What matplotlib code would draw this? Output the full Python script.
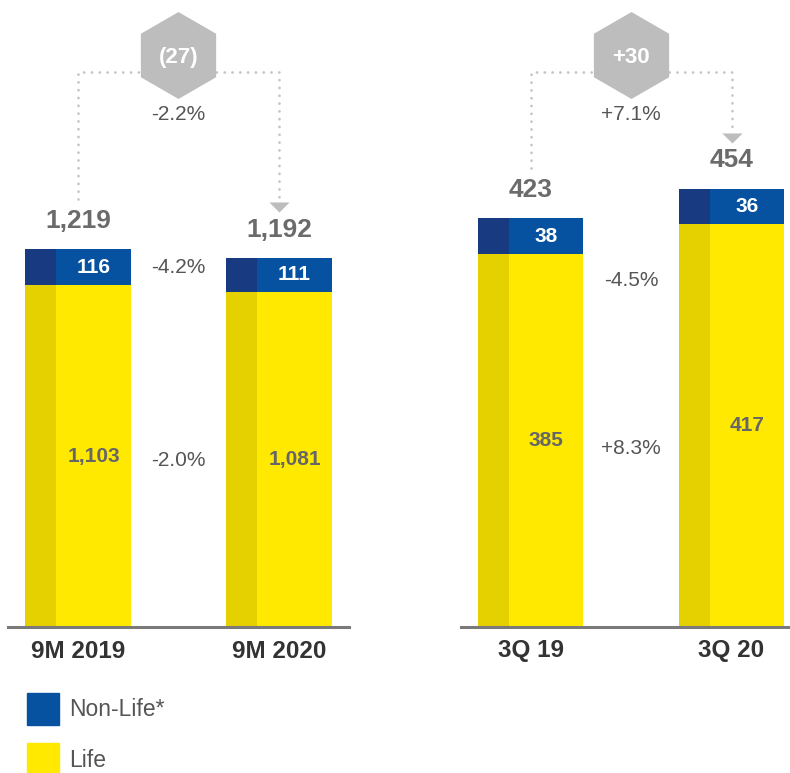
import matplotlib.pyplot as plt
from matplotlib.patches import Patch

plt.rcParams['font.family'] = ['Liberation Sans', 'DejaVu Sans']

# gross written premiums, EUR m
ytd_labels = ["9M 2019", "9M 2020"]
ytd_life = [1103, 1081]
ytd_nonlife = [116, 111]
ytd_total = [1219, 1192]
ytd_delta = "(27)"
ytd_delta_pct = "-2.2%"
ytd_seg_pct = ["-4.2%", "-2.0%"]

q_labels = ["3Q 19", "3Q 20"]
q_life = [385, 417]
q_nonlife = [38, 36]
q_total = [423, 454]
q_delta = "+30"
q_delta_pct = "+7.1%"
q_seg_pct = ["-4.5%", "+8.3%"]

BLUE, BLUE_DK = "#0652a1", "#173a80"
YELLOW, YELLOW_DK = "#ffe900", "#e5d000"
GREY = "#bdbdbd"

W, H = 790, 773
fig = plt.figure(figsize=(W / 100, H / 100), dpi=100)


def panel(left_px, right_px, xlim, ymax, labels, life, nonlife, totals,
          delta, delta_pct, seg_pct, seg_y):
    base = 627
    ax = fig.add_axes([left_px / W, (H - base) / H,
                       (right_px - left_px) / W, base / H])
    ax.set_xlim(*xlim)
    ax.set_ylim(0, ymax)
    x = [0, 1]
    bw, sw = 0.527, 0.154

    ax.bar(x, life, width=bw, color=YELLOW, zorder=2)
    ax.bar(x, nonlife, bottom=life, width=bw, color=BLUE, zorder=2)
    # darker strip on the left side of each bar
    xs = [v - bw / 2 for v in x]
    ax.bar(xs, life, width=sw, align='edge', color=YELLOW_DK, zorder=3)
    ax.bar(xs, nonlife, bottom=life, width=sw, align='edge',
           color=BLUE_DK, zorder=3)

    for xi, l, n, t in zip(x, life, nonlife, totals):
        xc = xi + sw / 2
        ax.text(xc, l / 2, f"{l:,}", ha='center', va='center',
                fontsize=15, fontweight='bold', color="#666666", zorder=4)
        ax.text(xc, l + n / 2, f"{n:,}", ha='center', va='center',
                fontsize=15, fontweight='bold', color="white", zorder=4)
        ax.annotate(f"{t:,}", (xi, t), xytext=(0, 20),
                    textcoords='offset points', ha='center', va='center',
                    fontsize=19, fontweight='bold', color="#6b6b6b")

    # bracket from first total to second total
    tr = ax.get_xaxis_transform()
    gap = 0.08
    y_line = 0.885
    dot = dict(color="#c4c4c4", lw=2.0, ls=(0, (0.01, 2.8)),
               dash_capstyle='round', transform=tr, clip_on=False, zorder=1)
    ax.plot([0, 0, 1, 1],
            [totals[0] / ymax + gap, y_line, y_line, totals[1] / ymax + gap + 0.01],
            **dot)
    ax.plot([1], [totals[1] / ymax + gap], transform=tr, clip_on=False,
            marker=[(-1, 0.5), (1, 0.5), (0, -0.5)], markersize=14.5,
            color=GREY, mec='none', zorder=2)
    ax.plot([0.5], [0.9115], transform=tr, clip_on=False, marker='h',
            markersize=62.6, color=GREY, mec='none', zorder=3)
    ax.text(0.5, 0.908, delta, transform=tr, ha='center', va='center',
            fontsize=16, fontweight='bold', color="white", zorder=4)
    ax.text(0.5, 0.8166, delta_pct, transform=tr, ha='center', va='center',
            fontsize=15, color="#555555")

    for s, yv in zip(seg_pct, seg_y):
        ax.text(0.5, yv, s, transform=tr, ha='center', va='center',
                fontsize=15, color="#555555")

    for side in ['left', 'right', 'top']:
        ax.spines[side].set_visible(False)
    ax.spines['bottom'].set_color("#7a7a7a")
    ax.spines['bottom'].set_linewidth(2.2)
    ax.spines['bottom'].set_zorder(5)
    ax.set_yticks([])
    ax.set_xticks(x)
    ax.set_xticklabels(labels, fontsize=17.5, fontweight='bold', color="#333333")
    ax.tick_params(axis='x', length=0, pad=9)
    ax.patch.set_visible(False)
    return ax


panel(8, 349, (-0.348, 1.348), 2023, ytd_labels, ytd_life, ytd_nonlife,
      ytd_total, ytd_delta, ytd_delta_pct, ytd_seg_pct, [0.5726, 0.266])
panel(461, 790, (-0.346, 1.291), 648, q_labels, q_life, q_nonlife,
      q_total, q_delta, q_delta_pct, q_seg_pct, [0.552, 0.284])

handles = [Patch(color=BLUE, label="Non-Life*"), Patch(color=YELLOW, label="Life")]
fig.legend(handles=handles, loc='upper left',
           bbox_to_anchor=(27 / W, 1 - 693 / H), frameon=False,
           fontsize=16.5, handlelength=1.4, handleheight=1.75,
           handletextpad=0.45, labelspacing=0.82, borderpad=0,
           borderaxespad=0, labelcolor="#555555")

fig.savefig("out.png", dpi=100)
